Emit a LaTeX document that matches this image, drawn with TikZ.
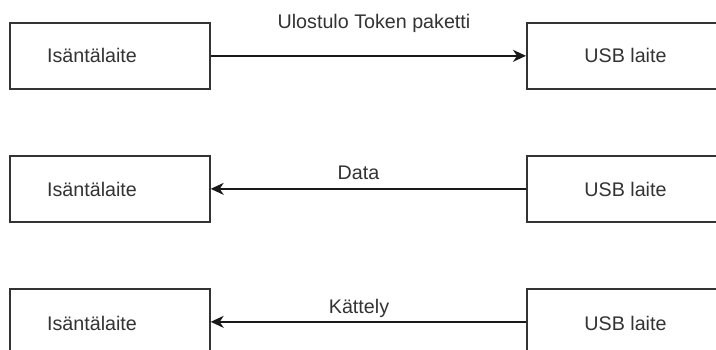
\documentclass[tikz,border=0pt]{standalone}
\usepackage{fontspec}
\setmainfont{Liberation Sans}
\usetikzlibrary{arrows.meta}
\definecolor{ink}{HTML}{333333}
\tikzset{
  x=1pt,y=1pt,
  devbox/.style={draw=ink, line width=1.7pt, fill=white, minimum width=200pt, minimum height=66pt, inner sep=0pt, anchor=north west},
  lbl/.style={text=ink, font=\fontsize{19.7}{22}\selectfont, inner sep=0pt, anchor=base},
  conn/.style={draw=black!90, line width=1.6pt, -{Stealth[length=13pt,width=12pt,inset=4pt]}}
}
\begin{document}
\begin{tikzpicture}
\useasboundingbox (0,0) rectangle (716,349);
\clip (0,0) rectangle (716,349);
% row 1
\node[devbox] (h1) at (9,327) {};
\node[devbox] (u1) at (526,327) {};
\node[lbl] (th1) at (92,286) {Isäntälaite};
\node[lbl] (tu1) at (625.5,286) {USB laite};
\draw[conn] (h1.east) -- (u1.west);
\node[lbl] (l1) at (374,320) {Ulostulo Token paketti};
% row 2
\node[devbox] (h2) at (9,194) {};
\node[devbox] (u2) at (526,194) {};
\node[lbl] (th2) at (92,153) {Isäntälaite};
\node[lbl] (tu2) at (625.5,153) {USB laite};
\draw[conn] (u2.west) -- (h2.east);
\node[lbl] (l2) at (358.5,170) {Data};
% row 3
\node[devbox] (h3) at (9,61) {};
\node[devbox] (u3) at (526,61) {};
\node[lbl] (th3) at (92,19) {Isäntälaite};
\node[lbl] (tu3) at (625.5,19) {USB laite};
\draw[conn] (u3.west) -- (h3.east);
\node[lbl] (l3) at (359,36) {Kättely};
\end{tikzpicture}
\end{document}
